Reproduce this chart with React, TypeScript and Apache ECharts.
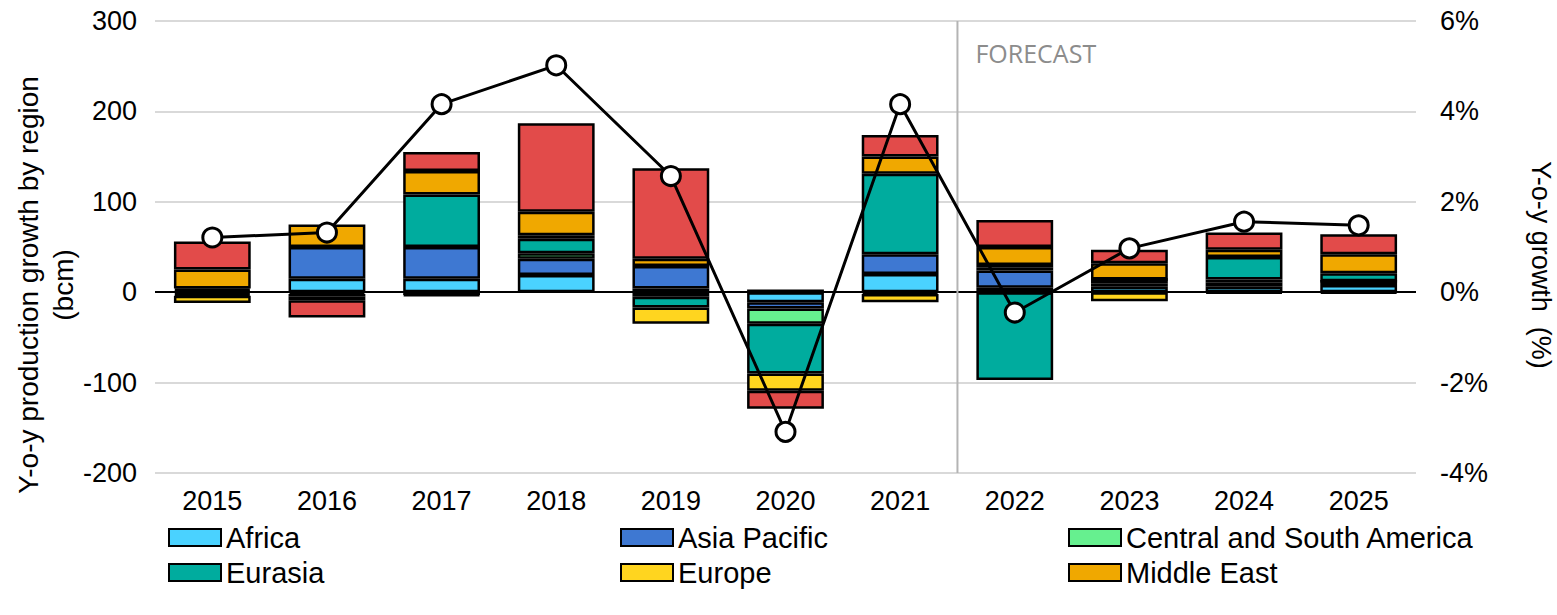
import React, { useEffect, useRef } from "react";
import * as echarts from "echarts";

const years = ["2015", "2016", "2017", "2018", "2019", "2020", "2021", "2022", "2023", "2024", "2025"];
const africa = [2, 15, 15, 19, 4, -11, 20, 5, 6, 6, 8];
const asiaPacific = [2, 35, 35, 18, 25, -7, 22, 19, 4, 5, 4];
const centralSouthAmerica = [-2, -2, -3, 6, -5, -17, -2, 3, 4, 3, 0];
const eurasia = [-2, -3, 58, 16, -12, -55, 89, -97, 0, 25, 9];
const europe = [-8, -4, -1, 4, -18, -19, -9, 3, -10, -1, -1];
const middleEast = [21, 25, 26, 26, 8, 3, 19, 20, 18, 8, 21];
const northAmerica = [31, -19, 21, 98, 100, -20, 24, 30, 15, 19, 22];
const growthPct = [1.21, 1.32, 4.16, 5.02, 2.57, -3.09, 4.16, -0.45, 0.97, 1.56, 1.48];

const leftTitle = "Y-o-y production growth by region\n(bcm)";
const rightTitle = "Y-o-y growth  (%)";
const forecastLabel = "FORECAST";

const regions = [
  { name: "Africa", data: africa, color: "#4AD2FF" },
  { name: "Asia Pacific", data: asiaPacific, color: "#3E78D2" },
  { name: "Central and South America", data: centralSouthAmerica, color: "#66F08F" },
  { name: "Eurasia", data: eurasia, color: "#00AC9E" },
  { name: "Europe", data: europe, color: "#FFD51F" },
  { name: "Middle East", data: middleEast, color: "#F0A800" },
  { name: "North America", data: northAmerica, color: "#E24B4A" },
];

const FONT = "Liberation Sans";

export default function App() {
  const ref = useRef<HTMLDivElement>(null);
  useEffect(() => {
    document.body.style.margin = "0";
    const chart = echarts.init(ref.current!, null, { renderer: "svg" });
    const legendPos = [
      { left: 163, top: 518 },
      { left: 615, top: 518 },
      { left: 1063, top: 518 },
      { left: 163, top: 553 },
      { left: 615, top: 553 },
      { left: 1063, top: 553 },
    ];
    const option: any = {
      animation: false,
      backgroundColor: "#ffffff",
      grid: { left: 155, right: 141, top: 21, bottom: 142, containLabel: false },
      legend: legendPos.map((p, i) => ({
        data: [regions[i].name],
        left: p.left,
        top: p.top,
        itemWidth: 52,
        itemHeight: 17,
        icon: "rect",
        textStyle: { fontFamily: FONT, fontSize: 29, color: "#000" },
        selectedMode: false,
      })),
      xAxis: {
        type: "category",
        data: years,
        axisLine: { show: false, onZero: false },
        axisTick: { show: false },
        axisLabel: { fontFamily: FONT, fontSize: 27, color: "#000", margin: 14 },
      },
      yAxis: [
        {
          type: "value",
          min: -200,
          max: 300,
          interval: 100,
          axisLine: { show: false },
          axisTick: { show: false },
          axisLabel: { fontFamily: FONT, fontSize: 27, color: "#000", margin: 18 },
          splitLine: { lineStyle: { color: "#d9d9d9", width: 2 } },
        },
        {
          type: "value",
          min: -4,
          max: 6,
          interval: 2,
          axisLine: { show: false },
          axisTick: { show: false },
          axisLabel: { fontFamily: FONT, fontSize: 27, color: "#000", margin: 24, formatter: "{value}%" },
          splitLine: { show: false },
        },
      ],
      series: [
        ...regions.map((r, i) => ({
          name: r.name,
          type: "bar",
          stack: "total",
          barWidth: "67%",
          data: r.data,
          itemStyle: { color: r.color, borderColor: "#000", borderWidth: 2.5 },
          ...(i === 0
            ? {
                markLine: {
                  silent: true,
                  symbol: ["none", "none"],
                  label: { show: false },
                  lineStyle: { color: "#000", width: 2, type: "solid" },
                  data: [{ yAxis: 0 }],
                  z: 1,
                },
              }
            : {}),
        })),
        {
          name: "Y-o-y growth",
          type: "line",
          yAxisIndex: 1,
          data: growthPct,
          symbol: "circle",
          symbolSize: 19,
          lineStyle: { color: "#000", width: 3 },
          itemStyle: { color: "#fff", borderColor: "#000", borderWidth: 3 },
          z: 5,
        },
      ],
    };
    chart.setOption(option);
    const x1 = chart.convertToPixel({ xAxisIndex: 0 }, "2021") as number;
    const x2 = chart.convertToPixel({ xAxisIndex: 0 }, "2022") as number;
    const yTop = chart.convertToPixel({ yAxisIndex: 0 }, 300) as number;
    const yBot = chart.convertToPixel({ yAxisIndex: 0 }, -200) as number;
    const xm = (x1 + x2) / 2;
    chart.setOption({
      graphic: [
        {
          type: "line",
          z: 1,
          silent: true,
          shape: { x1: xm, y1: yTop, x2: xm, y2: yBot },
          style: { stroke: "#b4b4b4", lineWidth: 2 },
        },
        {
          type: "text",
          z: 1,
          silent: true,
          x: xm + 18,
          y: yTop + 32,
          style: {
            text: forecastLabel,
            fill: "#8c8c8c",
            font: "25px 'Open Sans'",
            verticalAlign: "middle",
          },
        },
        {
          type: "text",
          silent: true,
          x: 46,
          y: 285,
          rotation: Math.PI / 2,
          style: {
            text: leftTitle,
            fill: "#000",
            font: `28px '${FONT}'`,
            lineHeight: 35,
            align: "center",
            verticalAlign: "middle",
          },
        },
        {
          type: "text",
          silent: true,
          x: 1541,
          y: 265,
          rotation: -Math.PI / 2,
          style: {
            text: rightTitle,
            fill: "#000",
            font: `27px '${FONT}'`,
            align: "center",
            verticalAlign: "middle",
          },
        },
      ],
    });
    return () => chart.dispose();
  }, []);
  return <div ref={ref} style={{ width: 1557, height: 615 }} />;
}
